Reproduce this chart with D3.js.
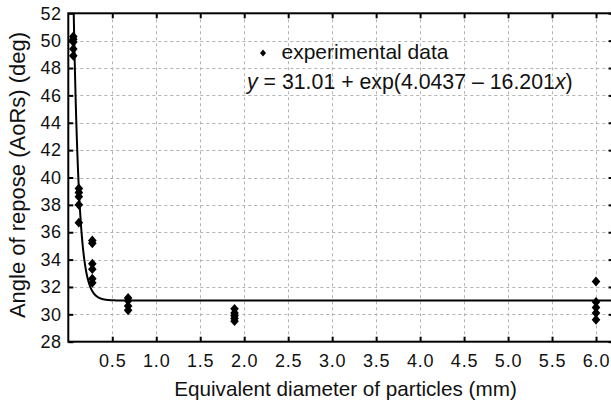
<!DOCTYPE html>
<html>
<head>
<meta charset="utf-8">
<script src="https://cdn.jsdelivr.net/npm/d3@7"></script>
<style>
  body { margin: 0; background: #fff; }
  svg text { font-family: Arial, "Liberation Sans", sans-serif; fill: #111; }
</style>
</head>
<body>
<svg width="611" height="402"></svg>
<script>
// measured points: particle size (mm) and angle of repose (deg)
var sizes = [0.057, 0.12, 0.273, 0.68, 1.89, 6.0];
var angles = [
  [50.3, 50.1, 49.9, 49.4, 48.9],
  [39.2, 38.9, 38.6, 38.0, 36.7],
  [35.4, 35.2, 33.7, 33.3, 32.6, 32.3],
  [31.2, 31.0, 30.6, 30.3],
  [30.4, 30.1, 29.9, 29.7, 29.5],
  [32.4, 30.9, 30.5, 30.1, 29.6]
];
// fitted model y = a + exp(b - c x)
var fitA = 31.01, fitB = 4.0437, fitC = 16.201;
var xTicks = [0.5, 1.0, 1.5, 2.0, 2.5, 3.0, 3.5, 4.0, 4.5, 5.0, 5.5, 6.0];
var yTicks = [28, 30, 32, 34, 36, 38, 40, 42, 44, 46, 48, 50, 52];

function draw() {
  var svg = d3.select('svg');
  var left = 68.3, right = 613.6, pTop = 13.3, bottom = 341.7;

  var x = d3.scaleLinear().domain([0, 6.2]).range([left, right]);
  var y = d3.scaleLinear().domain([28, 52]).range([bottom, pTop]);

  // grid
  var grid = svg.append('g').attr('stroke', '#b4b4b4').attr('stroke-width', 1).attr('stroke-dasharray', '3,3');
  grid.selectAll('.vg').data(xTicks).enter().append('line')
    .attr('x1', function (d) { return Math.round(x(d)) + 0.5; })
    .attr('x2', function (d) { return Math.round(x(d)) + 0.5; })
    .attr('y1', pTop).attr('y2', bottom);
  grid.selectAll('.hg').data(yTicks.slice(1, -1)).enter().append('line')
    .attr('y1', function (d) { return Math.round(y(d)) + 0.5; })
    .attr('y2', function (d) { return Math.round(y(d)) + 0.5; })
    .attr('x1', left).attr('x2', right);

  // axes, ticks pointing inward
  var xAxis = svg.append('g').attr('transform', 'translate(0,' + bottom + ')')
    .call(d3.axisBottom(x).tickValues(xTicks).tickSizeInner(-5).tickSizeOuter(0).tickPadding(13).tickFormat(d3.format('.1f')));
  var xTop = svg.append('g').attr('transform', 'translate(0,' + pTop + ')')
    .call(d3.axisTop(x).tickValues(xTicks).tickSizeInner(-5).tickSizeOuter(0).tickFormat(''));
  var yAxis = svg.append('g').attr('transform', 'translate(' + left + ',0)')
    .call(d3.axisLeft(y).tickValues(yTicks).tickSizeInner(-5).tickSizeOuter(0).tickPadding(7).tickFormat(d3.format('d')));
  var yRight = svg.append('g').attr('transform', 'translate(' + right + ',0)')
    .call(d3.axisRight(y).tickValues(yTicks).tickSizeInner(-5).tickSizeOuter(0).tickFormat(''));

  [xAxis, xTop, yAxis, yRight].forEach(function (a) {
    a.select('.domain').remove();
    a.selectAll('.tick line').attr('stroke', '#000').attr('stroke-width', 2);
    a.selectAll('text').attr('font-size', 18).attr('fill', '#111')
      .attr('font-family', 'Arial, "Liberation Sans", sans-serif');
  });
  xAxis.selectAll('text').attr('dy', '0.71em').attr('letter-spacing', 0.8);
  yAxis.selectAll('text').attr('letter-spacing', 0.4);

  // frame
  svg.append('rect').attr('x', left).attr('y', pTop)
    .attr('width', right - left).attr('height', bottom - pTop)
    .attr('fill', 'none').attr('stroke', '#000').attr('stroke-width', 2);

  // fitted curve
  svg.append('clipPath').attr('id', 'clip').append('rect')
    .attr('x', left).attr('y', pTop).attr('width', right - left).attr('height', bottom - pTop);
  var curveX = d3.range(0, 6.2, 0.002);
  var line = d3.line()
    .x(function (d) { return x(d); })
    .y(function (d) { return y(fitA + Math.exp(fitB - fitC * d)); });
  svg.append('path').datum(curveX).attr('clip-path', 'url(#clip)')
    .attr('d', line).attr('fill', 'none').attr('stroke', '#000').attr('stroke-width', 2);

  // diamond marker
  var diamond = {
    draw: function (ctx, size) {
      var w = size, h = size * 1.15;
      ctx.moveTo(0, -h); ctx.lineTo(w, 0); ctx.lineTo(0, h); ctx.lineTo(-w, 0); ctx.closePath();
    }
  };
  var pts = [];
  sizes.forEach(function (s, i) {
    angles[i].forEach(function (a) { pts.push({ x: s, y: a }); });
  });
  svg.append('g').selectAll('path').data(pts).enter().append('path')
    .attr('transform', function (d) { return 'translate(' + x(d.x) + ',' + y(d.y) + ')'; })
    .attr('d', d3.symbol().type(diamond).size(4.3))
    .attr('fill', '#000');

  // legend
  svg.append('path').attr('transform', 'translate(263,53)')
    .attr('d', d3.symbol().type(diamond).size(3)).attr('fill', '#000');
  svg.append('text').attr('x', 281.5).attr('y', 58.5).attr('font-size', 21)
    .text('experimental data');
  var eq = svg.append('text').attr('x', 247).attr('y', 88.5).attr('font-size', 21.3);
  eq.append('tspan').attr('font-style', 'italic').text('y');
  eq.append('tspan').text(' = ' + fitA.toFixed(2) + ' + exp(' + fitB + ' \u2013 ' + fitC);
  eq.append('tspan').attr('font-style', 'italic').text('x');
  eq.append('tspan').text(')');

  // axis titles
  svg.append('text').attr('x', 345.5).attr('y', 396).attr('text-anchor', 'middle')
    .attr('font-size', 20.7).text('Equivalent diameter of particles (mm)');
  svg.append('text').attr('transform', 'translate(25,175) rotate(-90)').attr('text-anchor', 'middle')
    .attr('font-size', 22).text('Angle of repose (AoRs) (deg)');
}

draw();
</script>
</body>
</html>
